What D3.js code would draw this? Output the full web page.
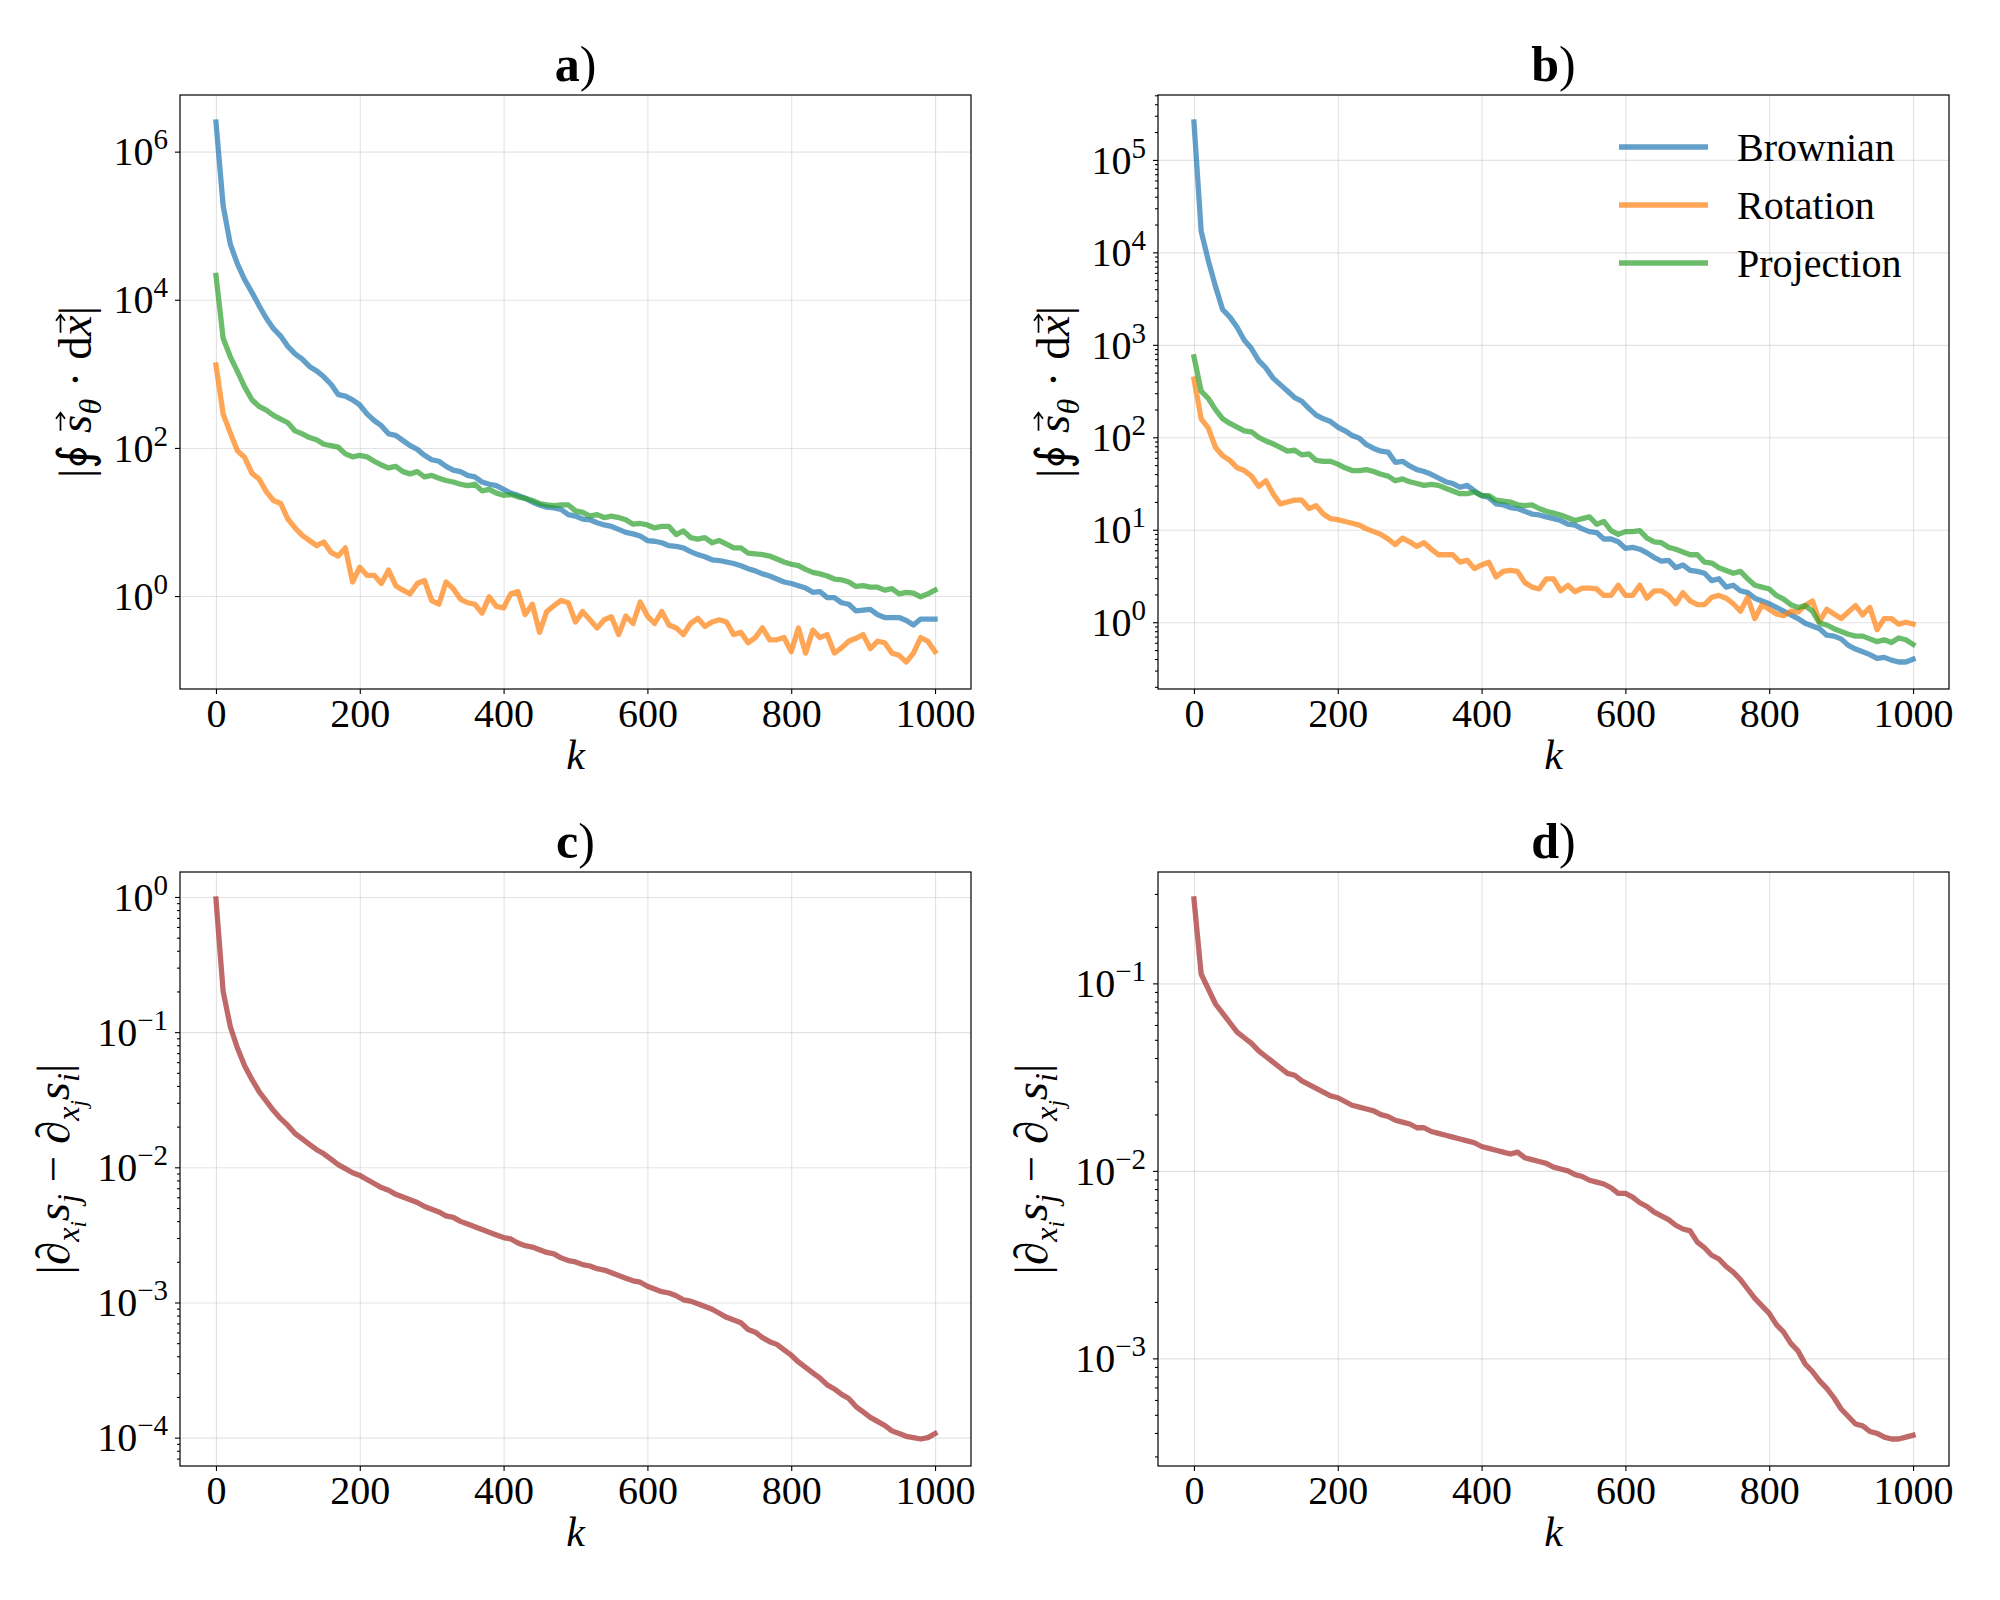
<!DOCTYPE html>
<html>
<head>
<meta charset="utf-8">
<script src="https://cdn.jsdelivr.net/npm/d3@7"></script>
<style>
  body { margin: 0; background: #fff; }
  svg { font-family: "Liberation Serif", "DejaVu Serif", serif; }
  .grid line { stroke: #b0b0b0; stroke-opacity: 0.35; stroke-width: 1.1; }
  .grid path { display: none; }
  .ticks path { display: none; }
  .ticks line { stroke: #000; stroke-width: 1.1; }
</style>
</head>
<body>
<div id="chart"></div>
<script>
// diffusion step index
const k = d3.range(0, 1001, 10);
const xTicks = [0, 200, 400, 600, 800, 1000];
const seriesNames = ["Brownian", "Rotation", "Projection"];
const seriesColors = ["#1f77b4", "#ff7f0e", "#2ca02c"];
const gapColor = "#a52a2a";

// all values are log10 of the plotted quantity
const aBrownian = [6.40, 5.27, 4.75, 4.48, 4.27, 4.10, 3.92, 3.75, 3.61, 3.51,
  3.37, 3.27, 3.20, 3.10, 3.04, 2.96, 2.86, 2.72, 2.70, 2.65,
  2.58, 2.46, 2.37, 2.30, 2.19, 2.17, 2.10, 2.03, 1.98, 1.90,
  1.84, 1.82, 1.75, 1.70, 1.68, 1.63, 1.61, 1.54, 1.51, 1.49,
  1.44, 1.39, 1.36, 1.32, 1.27, 1.23, 1.20, 1.19, 1.17, 1.10,
  1.08, 1.04, 1.03, 0.99, 0.96, 0.94, 0.90, 0.86, 0.84, 0.81,
  0.75, 0.74, 0.72, 0.68, 0.67, 0.65, 0.60, 0.56, 0.53, 0.49,
  0.48, 0.46, 0.44, 0.41, 0.37, 0.34, 0.30, 0.27, 0.23, 0.19,
  0.17, 0.14, 0.11, 0.05, 0.06, -0.02, -0.02, -0.09, -0.11, -0.20,
  -0.19, -0.18, -0.25, -0.29, -0.29, -0.29, -0.33, -0.39, -0.31, -0.31,
  -0.31];
const aRotation = [3.12, 2.46, 2.20, 1.96, 1.87, 1.66, 1.58, 1.41, 1.29, 1.25,
  1.04, 0.92, 0.82, 0.75, 0.68, 0.73, 0.59, 0.54, 0.65, 0.19,
  0.39, 0.28, 0.28, 0.17, 0.35, 0.14, 0.08, 0.03, 0.17, 0.21,
  -0.06, -0.11, 0.19, 0.10, -0.04, -0.09, -0.11, -0.23, -0.01, -0.14,
  -0.16, 0.03, 0.06, -0.25, -0.11, -0.49, -0.21, -0.13, -0.06, -0.09,
  -0.35, -0.21, -0.32, -0.43, -0.32, -0.28, -0.52, -0.27, -0.37, -0.08,
  -0.27, -0.37, -0.21, -0.39, -0.43, -0.52, -0.37, -0.30, -0.41, -0.35,
  -0.32, -0.35, -0.52, -0.49, -0.63, -0.56, -0.43, -0.59, -0.59, -0.56,
  -0.75, -0.43, -0.77, -0.46, -0.56, -0.52, -0.77, -0.70, -0.61, -0.57,
  -0.52, -0.71, -0.61, -0.63, -0.77, -0.80, -0.89, -0.77, -0.56, -0.61,
  -0.75];
const aProjection = [4.33, 3.48, 3.23, 3.03, 2.82, 2.65, 2.56, 2.51, 2.44, 2.39,
  2.34, 2.23, 2.19, 2.14, 2.11, 2.05, 2.03, 2.01, 1.92, 1.88,
  1.90, 1.88, 1.82, 1.77, 1.73, 1.75, 1.68, 1.65, 1.68, 1.61,
  1.63, 1.59, 1.56, 1.54, 1.51, 1.49, 1.51, 1.42, 1.44, 1.39,
  1.36, 1.37, 1.34, 1.32, 1.29, 1.25, 1.23, 1.22, 1.23, 1.23,
  1.15, 1.13, 1.08, 1.10, 1.06, 1.08, 1.06, 1.03, 0.97, 0.98,
  0.96, 0.92, 0.94, 0.94, 0.83, 0.88, 0.79, 0.77, 0.79, 0.72,
  0.75, 0.70, 0.65, 0.65, 0.58, 0.57, 0.56, 0.54, 0.50, 0.46,
  0.43, 0.41, 0.36, 0.32, 0.30, 0.27, 0.23, 0.22, 0.19, 0.13,
  0.14, 0.12, 0.12, 0.08, 0.10, 0.03, 0.05, 0.04, -0.01, 0.03,
  0.08];

const bBrownian = [5.41, 4.23, 3.91, 3.63, 3.38, 3.30, 3.19, 3.05, 2.96, 2.83,
  2.75, 2.64, 2.57, 2.50, 2.43, 2.39, 2.31, 2.24, 2.20, 2.17,
  2.11, 2.07, 2.02, 1.99, 1.92, 1.88, 1.85, 1.84, 1.73, 1.74,
  1.69, 1.65, 1.63, 1.60, 1.56, 1.52, 1.50, 1.46, 1.48, 1.42,
  1.37, 1.35, 1.28, 1.27, 1.24, 1.23, 1.20, 1.17, 1.16, 1.14,
  1.12, 1.10, 1.06, 1.05, 1.01, 0.98, 0.97, 0.90, 0.90, 0.87,
  0.80, 0.81, 0.79, 0.75, 0.70, 0.66, 0.67, 0.59, 0.62, 0.56,
  0.55, 0.53, 0.45, 0.47, 0.38, 0.40, 0.34, 0.32, 0.26, 0.23,
  0.20, 0.16, 0.12, 0.08, 0.04, -0.01, -0.04, -0.07, -0.14, -0.15,
  -0.18, -0.25, -0.29, -0.32, -0.35, -0.39, -0.38, -0.41, -0.43, -0.43,
  -0.40];
const bRotation = [2.63, 2.20, 2.10, 1.89, 1.80, 1.75, 1.67, 1.64, 1.58, 1.47,
  1.53, 1.39, 1.28, 1.30, 1.32, 1.32, 1.23, 1.26, 1.17, 1.12,
  1.11, 1.09, 1.07, 1.05, 1.01, 0.98, 0.95, 0.90, 0.84, 0.91,
  0.87, 0.82, 0.86, 0.79, 0.73, 0.73, 0.73, 0.65, 0.67, 0.58,
  0.62, 0.65, 0.49, 0.55, 0.56, 0.55, 0.43, 0.38, 0.36, 0.47,
  0.47, 0.34, 0.40, 0.33, 0.37, 0.37, 0.36, 0.29, 0.29, 0.40,
  0.29, 0.29, 0.40, 0.26, 0.34, 0.34, 0.29, 0.20, 0.32, 0.23,
  0.19, 0.19, 0.27, 0.29, 0.26, 0.20, 0.12, 0.27, 0.04, 0.19,
  0.14, 0.09, 0.07, 0.12, 0.11, 0.18, 0.23, 0.01, 0.14, 0.09,
  0.04, 0.11, 0.18, 0.08, 0.16, -0.08, 0.04, 0.04, -0.02, 0.00,
  -0.02];
const bProjection = [2.87, 2.50, 2.42, 2.30, 2.20, 2.15, 2.11, 2.07, 2.06, 2.00,
  1.96, 1.93, 1.89, 1.85, 1.86, 1.81, 1.82, 1.75, 1.74, 1.74,
  1.71, 1.67, 1.64, 1.64, 1.65, 1.63, 1.60, 1.58, 1.53, 1.55,
  1.52, 1.50, 1.48, 1.49, 1.48, 1.45, 1.42, 1.39, 1.39, 1.41,
  1.37, 1.37, 1.32, 1.31, 1.30, 1.27, 1.26, 1.27, 1.23, 1.20,
  1.18, 1.16, 1.13, 1.10, 1.12, 1.14, 1.06, 1.09, 0.99, 0.95,
  0.98, 0.98, 0.99, 0.91, 0.87, 0.86, 0.81, 0.79, 0.76, 0.73,
  0.73, 0.65, 0.64, 0.59, 0.56, 0.53, 0.55, 0.47, 0.40, 0.38,
  0.36, 0.29, 0.25, 0.19, 0.16, 0.18, 0.12, -0.01, -0.03, -0.07,
  -0.10, -0.13, -0.15, -0.15, -0.18, -0.21, -0.19, -0.22, -0.17, -0.19,
  -0.24];

const cGap = [-0.015, -0.70, -0.96, -1.12, -1.25, -1.35, -1.44, -1.51, -1.58, -1.64,
  -1.69, -1.75, -1.79, -1.83, -1.87, -1.90, -1.94, -1.98, -2.01, -2.04,
  -2.06, -2.09, -2.12, -2.15, -2.17, -2.20, -2.22, -2.24, -2.26, -2.29,
  -2.31, -2.33, -2.36, -2.37, -2.40, -2.42, -2.44, -2.46, -2.48, -2.50,
  -2.52, -2.53, -2.56, -2.58, -2.59, -2.61, -2.63, -2.64, -2.67, -2.69,
  -2.70, -2.72, -2.73, -2.75, -2.76, -2.78, -2.80, -2.82, -2.84, -2.85,
  -2.88, -2.90, -2.92, -2.93, -2.95, -2.98, -2.99, -3.01, -3.03, -3.05,
  -3.08, -3.11, -3.13, -3.15, -3.20, -3.22, -3.26, -3.29, -3.31, -3.35,
  -3.39, -3.44, -3.48, -3.52, -3.56, -3.61, -3.64, -3.68, -3.71, -3.77,
  -3.81, -3.85, -3.88, -3.91, -3.95, -3.97, -3.99, -4.00, -4.01, -4.00,
  -3.97];
const dGap = [-0.55, -0.95, -1.03, -1.11, -1.16, -1.21, -1.26, -1.29, -1.32, -1.36,
  -1.39, -1.42, -1.45, -1.48, -1.49, -1.52, -1.54, -1.56, -1.58, -1.60,
  -1.61, -1.63, -1.65, -1.66, -1.67, -1.68, -1.70, -1.71, -1.73, -1.74,
  -1.75, -1.77, -1.77, -1.79, -1.80, -1.81, -1.82, -1.83, -1.84, -1.85,
  -1.87, -1.88, -1.89, -1.90, -1.91, -1.90, -1.93, -1.94, -1.95, -1.96,
  -1.98, -1.99, -2.00, -2.02, -2.03, -2.05, -2.06, -2.07, -2.09, -2.12,
  -2.12, -2.14, -2.17, -2.19, -2.22, -2.24, -2.26, -2.29, -2.31, -2.32,
  -2.38, -2.41, -2.45, -2.47, -2.51, -2.54, -2.58, -2.63, -2.68, -2.72,
  -2.76, -2.82, -2.86, -2.92, -2.96, -3.03, -3.07, -3.12, -3.16, -3.21,
  -3.27, -3.31, -3.35, -3.36, -3.39, -3.40, -3.42, -3.43, -3.43, -3.42,
  -3.41];

// major tick exponents for each panel
const aMajorExp = [0, 2, 4, 6];
const bMajorExp = [0, 1, 2, 3, 4, 5];
const cMajorExp = [-4, -3, -2, -1, 0];
const dMajorExp = [-3, -2, -1];

function drawGraphic() {
  const width = 2000, height = 1600;
  const colX = [180, 1158], rowY = [95, 872];
  const w = 791, h = 594;

  const svg = d3.select("#chart").append("svg")
    .attr("width", width).attr("height", height);

  const panels = [
    { letter: "a", col: 0, row: 0, lines: [aBrownian, aRotation, aProjection], colors: seriesColors, majors: aMajorExp, minor: false, label: fluxLabel },
    { letter: "b", col: 1, row: 0, lines: [bBrownian, bRotation, bProjection], colors: seriesColors, majors: bMajorExp, minor: true, label: fluxLabel, legend: true },
    { letter: "c", col: 0, row: 1, lines: [cGap], colors: [gapColor], majors: cMajorExp, minor: true, label: gapLabel },
    { letter: "d", col: 1, row: 1, lines: [dGap], colors: [gapColor], majors: dMajorExp, minor: true, label: gapLabel }
  ];

  panels.forEach(p => {
    const g = svg.append("g")
      .attr("transform", "translate(" + colX[p.col] + "," + rowY[p.row] + ")");

    // scales, matplotlib-style 5% margins (log space for y)
    const x = d3.scaleLinear().domain([-50, 1050]).range([0, w]);
    const all = p.lines.flat();
    const lo = d3.min(all), hi = d3.max(all), pad = (hi - lo) * 0.05;
    const y = d3.scaleLog().domain([10 ** (lo - pad), 10 ** (hi + pad)]).range([h, 0]);

    const majors = p.majors.map(e => 10 ** e);
    const minors = [];
    if (p.minor) {
      for (let n = Math.floor(lo - pad) - 1; n <= Math.ceil(hi + pad); n++) {
        for (let m = 2; m <= 9; m++) {
          const v = m * 10 ** n;
          if (v >= y.domain()[0] && v <= y.domain()[1]) minors.push(v);
        }
      }
    }

    // grid
    g.append("g").attr("class", "grid")
      .attr("transform", "translate(0," + h + ")")
      .call(d3.axisBottom(x).tickValues(xTicks).tickSize(-h).tickFormat(""));
    g.append("g").attr("class", "grid")
      .call(d3.axisLeft(y).tickValues(majors).tickSize(-w).tickFormat(""));

    // lines
    const line = d3.line().x((d, i) => x(k[i])).y(d => y(10 ** d));
    p.lines.forEach((vals, i) => {
      g.append("path")
        .datum(vals)
        .attr("d", line)
        .attr("fill", "none")
        .attr("stroke", p.colors[i])
        .attr("stroke-opacity", 0.7)
        .attr("stroke-width", 5.3)
        .attr("stroke-linejoin", "round")
        .attr("stroke-linecap", "square");
    });

    // frame
    g.append("rect").attr("width", w).attr("height", h)
      .attr("fill", "none").attr("stroke", "#000").attr("stroke-width", 1.2);

    // x axis
    const xa = g.append("g").attr("class", "ticks")
      .attr("transform", "translate(0," + h + ")")
      .call(d3.axisBottom(x).tickValues(xTicks).tickFormat(d3.format("d")).tickSize(5).tickPadding(5))
      .attr("font-family", null).attr("font-size", 40);
    xa.selectAll("text").attr("fill", "#000");

    // y axis
    const ya = g.append("g").attr("class", "ticks");
    if (minors.length) {
      ya.append("g").call(d3.axisLeft(y).tickValues(minors).tickSize(3).tickFormat(""));
    }
    const yMaj = ya.append("g").call(d3.axisLeft(y).tickValues(majors).tickSize(5).tickFormat(""))
      .attr("font-family", null).attr("font-size", 40);
    yMaj.selectAll(".tick").each(function (v) {
      const e = Math.round(Math.log10(v));
      const t = d3.select(this).append("text")
        .attr("x", -12).attr("dy", "0.33em")
        .attr("text-anchor", "end").attr("fill", "#000");
      t.append("tspan").text("10");
      t.append("tspan").attr("font-size", 29).attr("dy", -16)
        .text(e < 0 ? "\u2212" + (-e) : String(e));
    });

    // x label
    g.append("text").attr("x", w / 2).attr("y", h + 80)
      .attr("text-anchor", "middle").attr("font-size", 42).attr("font-style", "italic")
      .text("k");

    // y label, placed left of the tick labels
    const yb = ya.node().getBBox();
    const yl = g.append("g");
    const rot = yl.append("g").attr("transform", "rotate(-90)");
    const yt = rot.append("text").attr("text-anchor", "middle").attr("font-size", 47);
    p.label(yt, rot);
    const lb = yl.node().getBBox();
    yl.attr("transform", "translate(" + (yb.x - 6 - (lb.x + lb.width)) + "," + (h / 2 - (lb.y + lb.height / 2)) + ")");

    // title
    const tt = g.append("text").attr("x", w / 2).attr("y", -14)
      .attr("text-anchor", "middle").attr("font-size", 50);
    tt.append("tspan").attr("font-weight", "bold").text(p.letter);
    tt.append("tspan").text(")");

    // legend
    if (p.legend) {
      seriesNames.forEach((name, i) => {
        const ly = 52 + i * 58;
        g.append("line").attr("x1", 461).attr("x2", 550).attr("y1", ly).attr("y2", ly)
          .attr("stroke", seriesColors[i]).attr("stroke-opacity", 0.7).attr("stroke-width", 5.3);
        g.append("text").attr("x", 579).attr("y", ly).attr("dy", "0.35em")
          .attr("font-size", 40).text(name);
      });
    }
  });
}

// vector arrow drawn over one character of a text element
function vecArrow(layer, text, idx) {
  const node = text.node();
  const ext = node.getExtentOfChar(idx);
  const base = node.getStartPositionOfChar(idx).y;
  const cx = ext.x + ext.width / 2 + 2;
  const ay = base - 30;
  const half = 9;
  layer.append("path")
    .attr("d", "M" + (cx - half) + "," + ay + "H" + (cx + half) +
      "M" + (cx + half - 6) + "," + (ay - 4.5) + "L" + (cx + half) + "," + ay + "L" + (cx + half - 6) + "," + (ay + 4.5))
    .attr("fill", "none").attr("stroke", "#000").attr("stroke-width", 1.7);
}

function fluxLabel(t, layer) {
  t.append("tspan").text("|\u222E ");
  t.append("tspan").attr("font-style", "italic").text("s");
  t.append("tspan").attr("font-style", "italic").attr("font-size", 32).attr("dy", 10).text("\u03B8");
  t.append("tspan").attr("dy", -10).text(" \u00B7 d");
  t.append("tspan").attr("font-style", "italic").text("x");
  t.append("tspan").text("|");
  // char indices: "|∮ " = 0..2, s = 3, θ = 4, " · d" = 5..8, x = 9
  vecArrow(layer, t, 3);
  vecArrow(layer, t, 9);
}

function gapLabel(t) {
  t.append("tspan").text("|\u2202");
  t.append("tspan").attr("font-style", "italic").attr("font-size", 32).attr("dy", 10).text("x");
  t.append("tspan").attr("font-style", "italic").attr("font-size", 23).attr("dy", 7).text("i");
  t.append("tspan").attr("font-style", "italic").attr("dy", -17).text("s");
  t.append("tspan").attr("font-style", "italic").attr("font-size", 32).attr("dy", 10).text("j");
  t.append("tspan").attr("dy", -10).text(" \u2212 \u2202");
  t.append("tspan").attr("font-style", "italic").attr("font-size", 32).attr("dy", 10).text("x");
  t.append("tspan").attr("font-style", "italic").attr("font-size", 23).attr("dy", 7).text("j");
  t.append("tspan").attr("font-style", "italic").attr("dy", -17).text("s");
  t.append("tspan").attr("font-style", "italic").attr("font-size", 32).attr("dy", 10).text("i");
  t.append("tspan").attr("dy", -10).text("|");
}

window.addEventListener("load", drawGraphic);
</script>
</body>
</html>
